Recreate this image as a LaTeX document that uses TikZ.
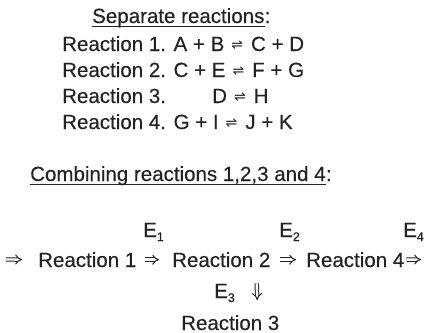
\documentclass[tikz,border=0pt]{standalone}
\usepackage{fontspec}
\setmainfont{Liberation Sans}[FakeBold=0.3]
\newfontfamily\symf{DejaVu Sans}
\usetikzlibrary{arrows.meta}
\definecolor{ink}{RGB}{35,35,35}
\newcommand{\eqarr}{\hspace{7bp}{\symf\fontsize{14}{14}\selectfont\raisebox{1.5bp}{⇌}}\hspace{8bp}}
\newcommand{\lowsub}[1]{\raisebox{-4bp}{\fontsize{12.5}{13}\selectfont #1}}
\begin{document}
\begin{tikzpicture}[x=1bp,y=1bp,
  txt/.style={inner sep=0pt, anchor=base west, text=ink, font=\fontsize{20.6}{24}\selectfont},
  ulin/.style={draw=ink, line width=1bp},
  dbl/.style={draw=ink, double, double distance=2.4bp, line width=1bp, -{Implies[]}}]
\useasboundingbox (0,0) rectangle (424,-333);
% separate reactions
\node[txt] (t1) at (92,-23) {Separate reactions};
\node[txt] (t1c) at (t1.base east) {:};
\draw[ulin] ([yshift=-3bp]t1.base west) -- ([yshift=-3bp]t1.base east);
\node[txt] (l1) at (62,-51) {Reaction 1. A + B\eqarr C + D};
\node[txt] (l2) at (62,-77) {Reaction 2. C + E\eqarr F + G};
\node[txt] (l3) at (62,-103) {Reaction 3.};
\node[txt] (l3b) at (212,-103) {D\eqarr H};
\node[txt] (l4) at (62,-129) {Reaction 4. G + I\eqarr J + K};
% combining
\node[txt] (t2) at (30,-181) {Combining reactions 1,2,3 and 4};
\node[txt] (t2c) at (t2.base east) {:};
\draw[ulin] ([yshift=-3.5bp]t2.base west) -- ([yshift=-3.5bp]t2.base east);
% main chain
\node[txt] (r1) at (38,-267) {Reaction 1};
\node[txt] (r2) at (172,-267) {Reaction 2};
\node[txt] (r4) at (306,-267) {Reaction 4};
\node[txt] (r3) at (181,-330) {Reaction 3};
\node[txt] (e1) at (143,-237) {E\lowsub{1}};
\node[txt] (e2) at (279,-237) {E\lowsub{2}};
\node[txt] (e4) at (403,-237) {E\lowsub{4}};
\node[txt] (e3) at (214,-298) {E\lowsub{3}};
\coordinate (in) at (6,-259.5);
\coordinate (out) at (421,-259.5);
\draw[dbl, shorten >=16bp] (in) -- (r1.west);
\draw[dbl, shorten <=8bp, shorten >=13bp] (r1.east) -- (r2.west);
\draw[dbl, shorten <=9bp, shorten >=10bp] (r2.east) -- (r4.west);
\draw[dbl, shorten <=2bp] (r4.east) -- (out);
\draw[dbl] ([xshift=35.5bp,yshift=-16bp]r2.south) -- ([xshift=27bp,yshift=15bp]r3.north);
\end{tikzpicture}
\end{document}
